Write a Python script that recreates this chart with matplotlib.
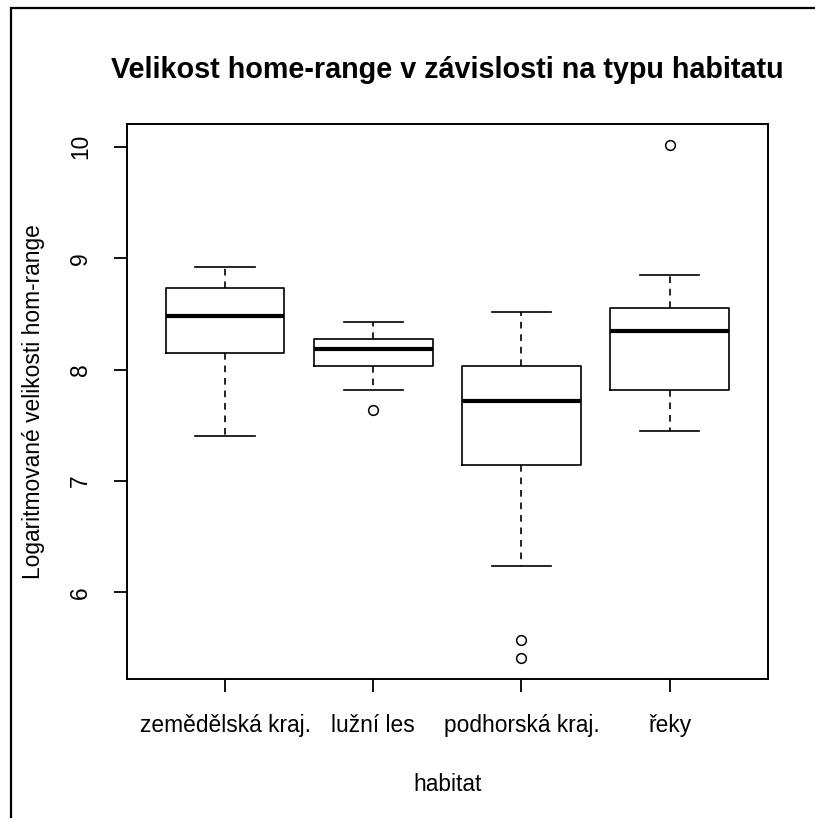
import matplotlib.pyplot as plt
from matplotlib.patches import Rectangle

# hodnoty
habitaty = ['zemědělská kraj.', 'lužní les', 'podhorská kraj.', 'řeky']
dolni_vous = [7.40, 7.82, 6.24, 7.45]
q1 = [8.15, 8.03, 7.14, 7.82]
median = [8.48, 8.18, 7.72, 8.35]
q3 = [8.73, 8.27, 8.03, 8.55]
horni_vous = [8.92, 8.43, 8.52, 8.85]
odlehle = [[], [7.64], [5.57, 5.41], [10.02]]
y_ticky = [6, 7, 8, 9, 10]

plt.rcParams['font.family'] = ['Liberation Sans', 'DejaVu Sans']

fig = plt.figure(figsize=(8.15, 8.18), dpi=100)
ax = fig.add_axes([127.3 / 815, 1 - 678.5 / 818, 640.2 / 815, 554.5 / 818])

stats = []
for i in range(len(habitaty)):
    stats.append({'whislo': dolni_vous[i], 'q1': q1[i], 'med': median[i],
                  'q3': q3[i], 'whishi': horni_vous[i], 'fliers': odlehle[i]})

pozice = list(range(1, len(habitaty) + 1))
ax.bxp(stats, positions=pozice, widths=0.8, showfliers=True,
       boxprops=dict(color='black', linewidth=1.2),
       medianprops=dict(color='black', linewidth=3.0, solid_capstyle='butt'),
       whiskerprops=dict(color='black', linewidth=1.2, linestyle=(0, (4, 3.5))),
       capprops=dict(color='black', linewidth=1.2),
       flierprops=dict(marker='o', markerfacecolor='none', markeredgecolor='black',
                       markersize=7, markeredgewidth=1.1))

# rozsah os jako v R (4 % navic)
vse = dolni_vous + horni_vous + [v for s in odlehle for v in s]
lo, hi = min(vse), max(vse)
ext = 0.04 * (hi - lo)
ax.set_ylim(lo - ext, hi + ext)
ax.set_xlim(0.5 - 0.04 * len(habitaty), len(habitaty) + 0.5 + 0.04 * len(habitaty))

ax.set_xticks(pozice)
ax.set_xticklabels(habitaty, fontsize=16.4)
ax.set_yticks(y_ticky)
ax.set_yticklabels([str(t) for t in y_ticky], fontsize=16.4, rotation=90, va='center')
ax.tick_params(axis='both', direction='out', length=9.5, width=1.3, pad=16, color='black')

for s in ax.spines.values():
    s.set_linewidth(1.4)

ax.set_title('Velikost home-range v závislosti na typu habitatu',
             fontsize=20.7, fontweight='bold', pad=33)
ax.set_xlabel('habitat', fontsize=16.4)
ax.xaxis.set_label_coords(0.5, -0.170)
ax.set_ylabel('Logaritmované velikosti hom-range', fontsize=16.4)
ax.yaxis.set_label_coords(-0.1286, 0.5)

# ramecek kolem obrazku
fig.add_artist(Rectangle((11.3 / 815, -0.1), 1.2, 1.1 - 8.3 / 818,
                         transform=fig.transFigure, fill=False,
                         edgecolor='black', linewidth=1.6))

fig.savefig('out.png', dpi=100, facecolor='white')
